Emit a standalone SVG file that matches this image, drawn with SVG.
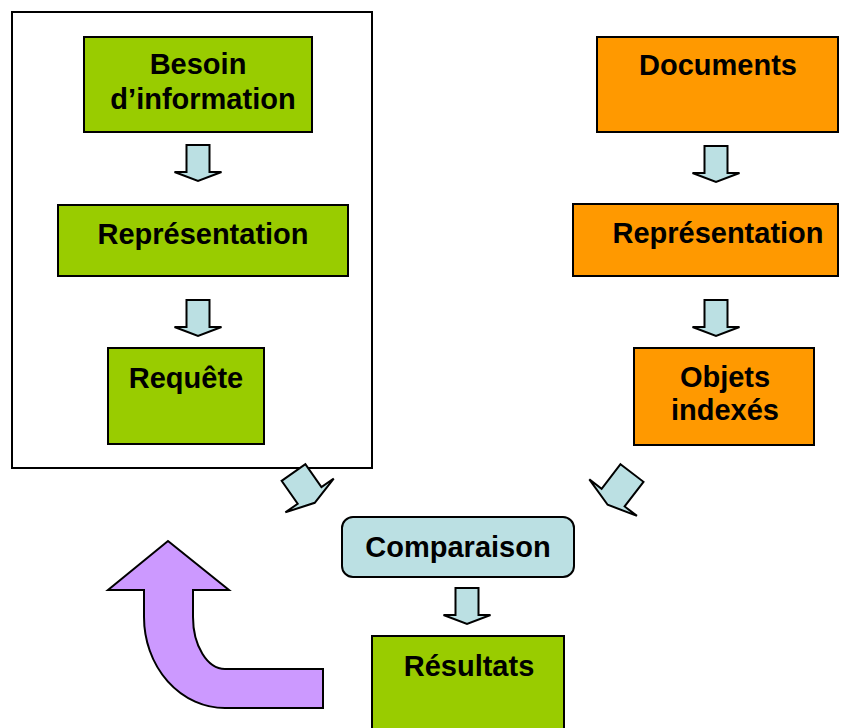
<svg xmlns="http://www.w3.org/2000/svg" width="849" height="728" viewBox="0 0 849 728">
<style>
.g{fill:#99cc00;stroke:#000;stroke-width:2}
.o{fill:#ff9900;stroke:#000;stroke-width:2}
.b{fill:#bbe0e3;stroke:#000;stroke-width:2}
.a{fill:#bbe0e3;stroke:#000;stroke-width:2;stroke-linejoin:miter}
.t{font-family:"Liberation Sans",Arial,sans-serif;font-weight:bold;font-size:29px;fill:#000;text-anchor:middle}
</style>
<defs>
<path id="va" d="M-11.5,0 H11.5 V27 H23.5 L0,36 L-23.5,27 H-11.5 Z"/>
</defs>
<rect x="12" y="12" width="360" height="456" fill="#fff" stroke="#000" stroke-width="2"/>
<g id="besoin"><rect class="g" x="84" y="37" width="228" height="95"/><text class="t" x="198" y="74">Besoin</text><text class="t" x="203" y="109">d’information</text></g>
<g id="repr-left"><rect class="g" x="58" y="205" width="290" height="71"/><text class="t" x="203" y="244">Représentation</text></g>
<g id="requete"><rect class="g" x="108" y="348" width="156" height="96"/><text class="t" x="186" y="388">Requête</text></g>
<g id="documents"><rect class="o" x="597" y="37" width="241" height="95"/><text class="t" x="718" y="75">Documents</text></g>
<g id="repr-right"><rect class="o" x="573" y="204" width="265" height="72"/><text class="t" x="718" y="243">Représentation</text></g>
<g id="objets"><rect class="o" x="634" y="348" width="180" height="97"/><text class="t" x="725" y="387">Objets</text><text class="t" x="725" y="420">indexés</text></g>
<g id="comparaison"><rect class="b" x="342" y="517" width="232" height="60" rx="11"/><text class="t" x="458" y="557">Comparaison</text></g>
<g id="resultats"><rect class="g" x="372" y="636" width="192" height="100"/><text class="t" x="469" y="676">Résultats</text></g>
<g id="connectors">
<use href="#va" class="a" transform="translate(198,145)"/>
<use href="#va" class="a" transform="translate(198,300)"/>
<use href="#va" class="a" transform="translate(716,146)"/>
<use href="#va" class="a" transform="translate(716,300)"/>
<use href="#va" class="a" transform="translate(467,588)"/>
<path class="a" d="M-14.5,0 H14.5 V28 H29.5 L0,37 L-29.5,28 H-14.5 Z" transform="translate(293.5,472.5) rotate(-35)"/>
<path class="a" d="M-14.5,0 H14.5 V31 H30 L0,40 L-30,31 H-14.5 Z" transform="translate(632,473) rotate(37.5)"/>
<path d="M168,541 L229,590 L193,590 L193,617 A32,52 0 0 0 225,669 L323,669 L323,708 L225,708 A81,91 0 0 1 144,617 L144,590 L108,590 Z" fill="#cc99ff" stroke="#000" stroke-width="2"/>
</g>
</svg>
